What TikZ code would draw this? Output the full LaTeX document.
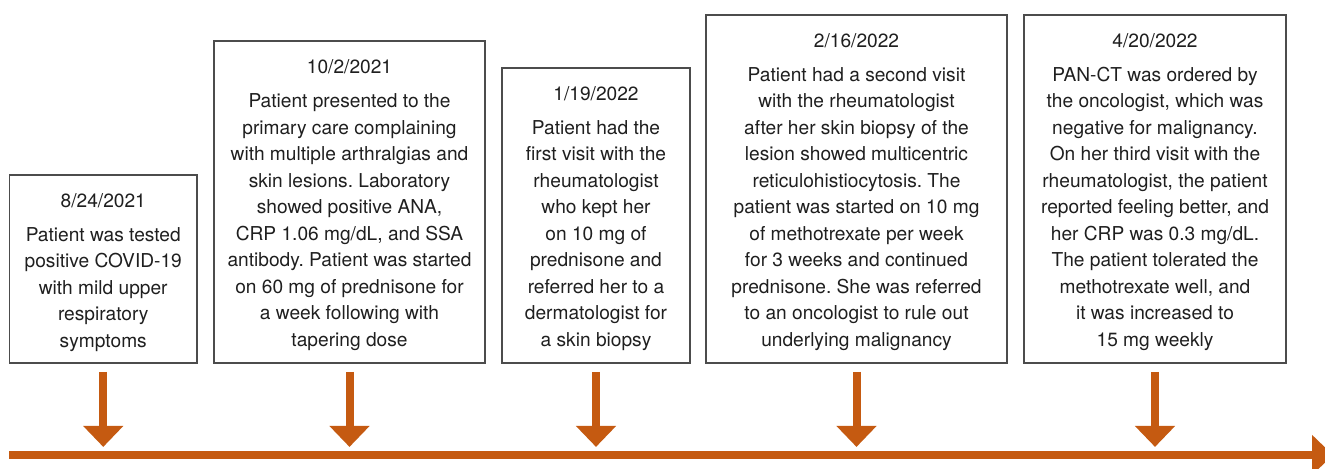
\documentclass[tikz,border=0pt]{standalone}
\usepackage{fontspec}
\setmainfont{TeX Gyre Heros}
\usetikzlibrary{calc}
\usetikzlibrary{arrows.meta}
\definecolor{timeorange}{RGB}{197,90,17}
\frenchspacing

\begin{document}
\begin{tikzpicture}[x=0.02cm,y=-0.02cm,
    box/.style={draw=black!70,line width=1.1pt,inner sep=0pt},
    note/.style={anchor=north,align=center,inner sep=0pt,text=black!88,
        font=\fontsize{10.9}{15.1}\selectfont},
    tick/.style={timeorange,line width=0.16cm,-{Triangle[width=0.78cm,length=0.42cm]}},
    axis/.style={timeorange,line width=0.16cm,-{Triangle[width=0.78cm,length=0.42cm]}}]
                \useasboundingbox (0,0) rectangle (1325,469);
                \clip (0,0) rectangle (1325,469);
                % the five boxes, bottoms on one line
                \foreach \n/\l/\r/\t in {b1/9.5/197/174, b2/214/485/40.5, b3/502/690/67, b4/706/1007/14, b5/1024/1286/14} {
                    \node[box,anchor=north,minimum width={(\r-\l)*0.02cm},
                        minimum height={(362-\t)*0.02cm}] (\n) at ({(\l+\r)/2},\t) {};
                }
                \node[note] (n1) at ($(b1.north)+(0,19)$) {8/24/2021\\[4.2pt]
                    Patient was tested\\ positive COVID-19\\ with mild upper\\
                    respiratory\\ symptoms};
                \node[note] (n2) at ($(b2.north)+(0,19)$) {10/2/2021\\[4.2pt]
                    Patient presented to the\\ primary care complaining\\
                    with multiple arthralgias and\\ skin lesions. Laboratory\\
                    showed positive ANA,\\ CRP 1.06 mg/dL, and SSA\\
                    antibody. Patient was started\\ on 60 mg of prednisone for\\
                    a week following with\\ tapering dose};
                \node[note] (n3) at ($(b3.north)+(0,19)$) {1/19/2022\\[4.2pt]
                    Patient had the\\ first visit with the\\ rheumatologist\\
                    who kept her\\ on 10 mg of\\ prednisone and\\
                    referred her to a\\ dermatologist for\\ a skin biopsy};
                \node[note] (n4) at ($(b4.north)+(0,19)$) {2/16/2022\\[4.2pt]
                    Patient had a second visit\\ with the rheumatologist\\
                    after her skin biopsy of the\\ lesion showed multicentric\\
                    reticulohistiocytosis. The\\ patient was started on 10 mg\\
                    of methotrexate per week\\ for 3 weeks and continued\\
                    prednisone. She was referred\\ to an oncologist to rule out\\
                    underlying malignancy};
                \node[note] (n5) at ($(b5.north)+(0,19)$) {4/20/2022\\[4.2pt]
                    PAN-CT was ordered by\\ the oncologist, which was\\
                    negative for malignancy.\\ On her third visit with the\\
                    rheumatologist, the patient\\ reported feeling better, and\\
                    her CRP was 0.3 mg/dL.\\ The patient tolerated the\\
                    methotrexate well, and\\ it was increased to\\ 15 mg weekly};
                % arrows down to the time line
                \foreach \n in {b1,b2,b3,b4,b5} {
                    \draw[tick] ($(\n.south)+(0,8)$) -- ($(\n.south)+(0,83)$);
                }
                \coordinate (start) at (9,455);
                \coordinate (end) at (1333,455);
                \draw[axis] (start) -- (end);
            \end{tikzpicture}
\end{document}
